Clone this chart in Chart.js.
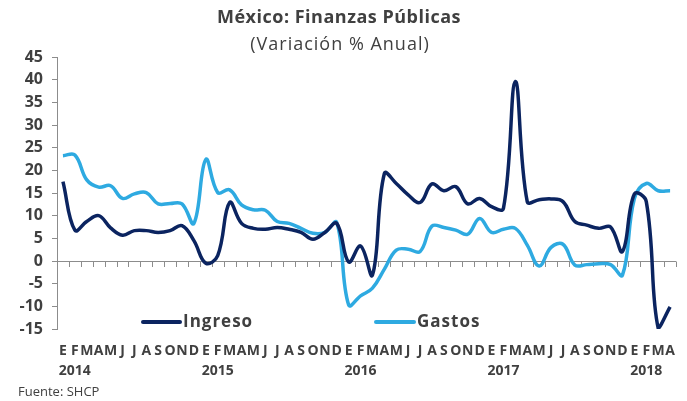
<!DOCTYPE html>
<html>
<head>
<meta charset="utf-8">
<script src="https://cdn.jsdelivr.net/npm/chart.js@4.4.1/dist/chart.umd.min.js"></script>
<style>
    html, body { margin: 0; padding: 0; background: #fff; }
    #wrap { width: 687px; height: 401px; }
</style>
</head>
<body>
<div id="wrap"><canvas id="chart" width="687" height="401"></canvas></div>
<script>
"use strict";
var months = ["E", "F", "M", "A", "M", "J", "J", "A", "S", "O", "N", "D"];
var years = ["2014", "2015", "2016", "2017", "2018"];
// enero 2014 - abril 2018
var ingreso = [17.5, 6.8, 8.7, 10.0, 7.3, 5.7, 6.7, 6.7, 6.3, 6.7, 7.8, 4.5,
    -0.5, 1.2, 12.9, 8.3, 7.2, 7.0, 7.4, 7.0, 6.3, 4.8, 6.3, 8.3,
    -0.2, 3.3, -3.1, 19.3, 17.1, 14.6, 12.9, 17.0, 15.5, 16.4, 12.6, 13.8,
    12.0, 11.6, 39.6, 13.1, 13.5, 13.7, 13.1, 8.7, 7.9, 7.2, 7.5, 2.1,
    14.8, 13.1, -14.8, -10.1];
var gastos = [23.2, 23.4, 17.9, 16.3, 16.6, 13.8, 14.8, 15.1, 12.6, 12.7, 12.6, 8.3,
    22.4, 15.1, 15.7, 12.4, 11.3, 11.2, 8.7, 8.3, 7.2, 6.1, 6.3, 8.5,
    -9.7, -7.7, -6.0, -1.8, 2.4, 2.6, 2.1, 7.7, 7.4, 6.8, 5.9, 9.4,
    6.3, 7.0, 7.2, 3.5, -1.1, 3.0, 3.7, -0.9, -0.8, -0.6, -0.8, -3.1,
    13.8, 17.1, 15.5, 15.5];

var labels = ingreso.map(function (v, i) {
    var m = months[i % 12];
    if (i % 12 === 1) {
        return [m, years[Math.floor(i / 12)]];
    }
    return m;
});

var textColor = "#404040";
var axisColor = "#8c8c8c";
var font = "'Open Sans', sans-serif";

var decor = {
    id: "decor",
    beforeDatasetsDraw: function (chart) {
        var ctx = chart.ctx;
        var x = chart.scales.x;
        var y0 = chart.scales.y.getPixelForValue(0);
        var area = chart.chartArea;
        var step = (area.right - area.left) / labels.length;
        ctx.save();
        ctx.strokeStyle = axisColor;
        ctx.lineWidth = 1;
        ctx.beginPath();
        ctx.moveTo(area.left, Math.round(y0) + 0.5);
        ctx.lineTo(area.right, Math.round(y0) + 0.5);
        for (var i = 1; i <= labels.length; i++) {
            var px = Math.round(x.getPixelForValue(i - 1) + step / 2) + 0.5;
            ctx.moveTo(px, Math.round(y0) + 0.5);
            ctx.lineTo(px, Math.round(y0) + 6);
        }
        ctx.stroke();
        ctx.restore();
    },
    afterDatasetsDraw: function (chart) {
        var ctx = chart.ctx;
        var items = [{x: 143, tx: 183}, {x: 376, tx: 417}];
        ctx.save();
        ctx.font = "bold 17px " + font;
        ctx.letterSpacing = "1px";
        ctx.textBaseline = "middle";
        chart.data.datasets.forEach(function (ds, i) {
            ctx.strokeStyle = ds.borderColor;
            ctx.lineWidth = 4;
            ctx.lineCap = "round";
            ctx.beginPath();
            ctx.moveTo(items[i].x, 322);
            ctx.lineTo(items[i].tx - 3, 322);
            ctx.stroke();
            ctx.fillStyle = textColor;
            ctx.fillText(ds.label, items[i].tx, 322);
        });
        ctx.restore();
    },
    afterDraw: function (chart) {
        var ctx = chart.ctx;
        ctx.save();
        ctx.fillStyle = textColor;
        ctx.textAlign = "center";
        ctx.textBaseline = "middle";
        ctx.font = "bold 18px " + font;
        ctx.letterSpacing = "0.5px";
        ctx.fillText("México: Finanzas Públicas", 339, 18);
        ctx.font = "18px " + font;
        ctx.letterSpacing = "1px";
        ctx.fillText("(Variación % Anual)", 340, 45);
        ctx.textAlign = "left";
        ctx.font = "13px " + font;
        ctx.letterSpacing = "0px";
        ctx.fillText("Fuente: SHCP", 18, 392);
        ctx.restore();
    }
};

var chart = new Chart(document.getElementById("chart").getContext("2d"), {
    type: "line",
    data: {
        labels: labels,
        datasets: [{
            label: "Ingreso",
            data: ingreso,
            borderColor: "#0b2460",
            borderWidth: 3.5,
            pointRadius: 0,
            tension: 0.4,
            fill: false
        },
        {
            label: "Gastos",
            data: gastos,
            borderColor: "#2eaae1",
            borderWidth: 3.5,
            pointRadius: 0,
            tension: 0.4,
            fill: false
        }]
    },
    options: {
        responsive: false,
        animation: false,
        layout: { padding: { top: 57, right: 8, left: 0, bottom: 0 } },
        plugins: {
            legend: { display: false },
            tooltip: { enabled: false }
        },
        scales: {
            x: {
                offset: true,
                grid: { display: false, drawTicks: false },
                border: { display: false },
                ticks: {
                    autoSkip: false,
                    maxRotation: 0,
                    minRotation: 0,
                    padding: 12,
                    color: textColor,
                    font: { family: font, size: 14, weight: "bold", lineHeight: 1.45 }
                },
                afterFit: function (scale) { scale.height = 72; }
            },
            y: {
                min: -15,
                max: 45,
                ticks: {
                    stepSize: 5,
                    autoSkip: false,
                    padding: 9,
                    color: textColor,
                    font: { family: font, size: 16, weight: "bold" }
                },
                grid: { drawOnChartArea: false, drawTicks: true, tickLength: 5, color: axisColor },
                border: { display: true, color: axisColor, width: 1 },
                afterFit: function (scale) { scale.width = 57; }
            }
        }
    },
    plugins: [decor]
});
</script>
</body>
</html>
